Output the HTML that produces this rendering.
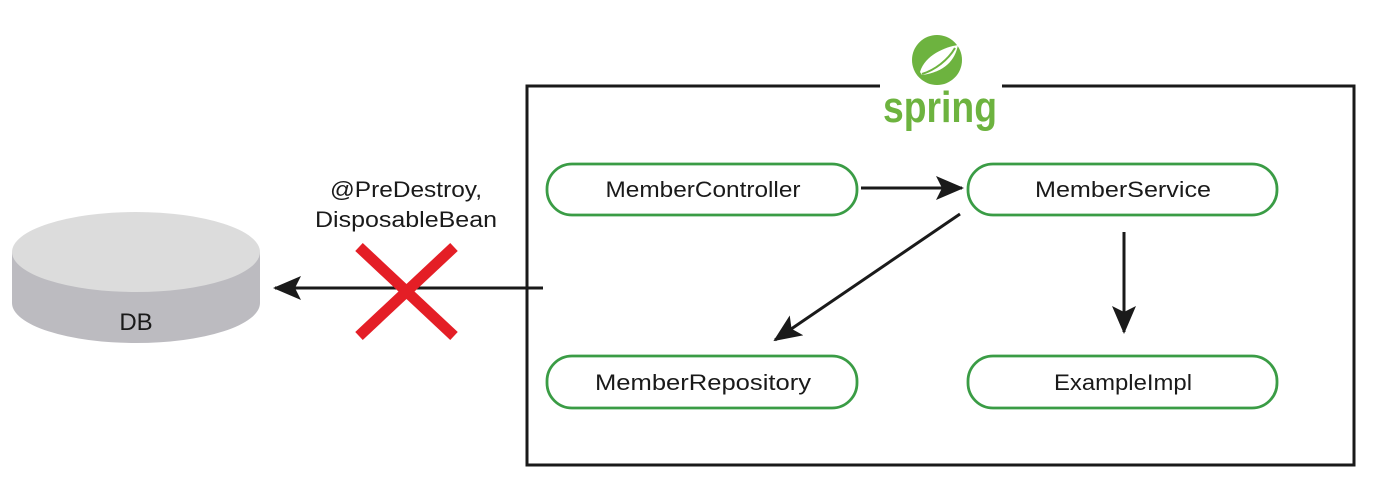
<!DOCTYPE html>
<html><head><meta charset="utf-8"><style>html,body{margin:0;padding:0;background:#fff}svg{display:block}</style></head>
<body>
<svg width="1376" height="502" viewBox="0 0 1376 502" xmlns="http://www.w3.org/2000/svg" font-family="Liberation Sans, sans-serif">
<defs>
<marker id="ah2" markerWidth="28" markerHeight="24" refX="26" refY="12" orient="auto" markerUnits="userSpaceOnUse"><path d="M0,0 L28,12 L0,24 L6,12 z" fill="#1a1a1a"/></marker>
</defs>
<path d="M880,86 L527,86 L527,465 L1354,465 L1354,86 L1002,86" fill="none" stroke="#1a1a1a" stroke-width="3"/>
<circle cx="937" cy="60" r="25" fill="#6db33f"/>
<path d="M920,72 C925,55 945,47 958,45 C955,60 945,72 922,75 Z" fill="#fff"/>
<path d="M922,74 C935,70 948,60 955,48" stroke="#6db33f" stroke-width="2" fill="none"/>
<text x="940" y="122" text-anchor="middle" font-size="44" font-weight="bold" fill="#6db33f" textLength="114" lengthAdjust="spacingAndGlyphs">spring</text>
<path d="M12,252 L12,303 A124,40 0 0 0 260,303 L260,252 Z" fill="#bcbbc0"/>
<ellipse cx="136" cy="252" rx="124" ry="40" fill="#dcdcdc"/>
<text x="136" y="330" text-anchor="middle" font-size="24" fill="#1a1a1a">DB</text>
<text x="406" y="197" text-anchor="middle" font-size="22" fill="#1a1a1a" textLength="152" lengthAdjust="spacingAndGlyphs">@PreDestroy,</text>
<text x="406" y="227" text-anchor="middle" font-size="22" fill="#1a1a1a" textLength="182" lengthAdjust="spacingAndGlyphs">DisposableBean</text>
<line x1="543" y1="288" x2="275" y2="288" stroke="#1a1a1a" stroke-width="3" marker-end="url(#ah2)"/>
<g stroke="#e41e26" stroke-width="11">
<line x1="359" y1="247" x2="454" y2="336"/>
<line x1="454" y1="247" x2="359" y2="336"/>
</g>
<g fill="#fff" stroke="#3a9c45" stroke-width="2.8">
<rect x="547" y="164" width="310" height="51" rx="25"/>
<rect x="968" y="164" width="309" height="51" rx="25"/>
<rect x="547" y="356" width="310" height="52" rx="25"/>
<rect x="968" y="356" width="309" height="52" rx="25"/>
</g>
<g font-size="22" fill="#1a1a1a" text-anchor="middle">
<text x="703" y="197" textLength="195" lengthAdjust="spacingAndGlyphs">MemberController</text>
<text x="1123" y="197" textLength="176" lengthAdjust="spacingAndGlyphs">MemberService</text>
<text x="703" y="390" textLength="216" lengthAdjust="spacingAndGlyphs">MemberRepository</text>
<text x="1123" y="390" textLength="138" lengthAdjust="spacingAndGlyphs">ExampleImpl</text>
</g>
<g stroke="#1a1a1a" stroke-width="3">
<line x1="861" y1="188" x2="962" y2="188" marker-end="url(#ah2)"/>
<line x1="960" y1="214" x2="775" y2="340" marker-end="url(#ah2)"/>
<line x1="1124" y1="232" x2="1124" y2="332" marker-end="url(#ah2)"/>
</g>
</svg>
</body></html>
